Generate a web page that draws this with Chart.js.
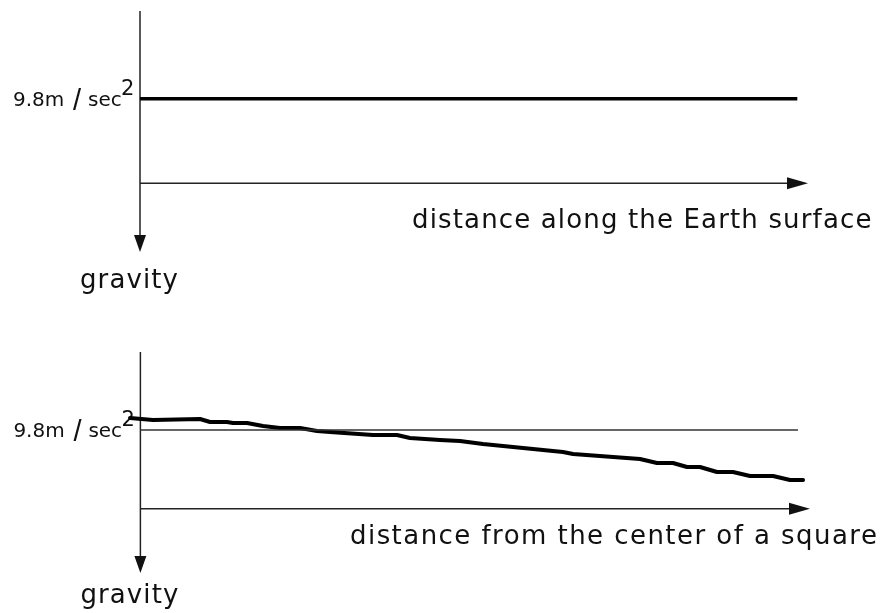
<!DOCTYPE html>
<html>
<head>
<meta charset="utf-8">
<script src="https://cdn.jsdelivr.net/npm/chart.js@4.4.1/dist/chart.umd.min.js"></script>
<style>
  html, body { margin: 0; padding: 0; background: #fff; }
  canvas { display: block; }
</style>
</head>
<body>
<canvas id="top" width="882" height="320"></canvas>
<canvas id="bottom" width="882" height="293"></canvas>
<script>
// values (distance 0..100 = arrow tip)
const g0 = 9.8;
const gLabel = ['9.8m', '/', 'sec', '2'];
const yLabel = 'gravity';
const topXLabel = 'distance along the Earth surface';
const bottomXLabel = 'distance from the center of a square';

const flatDist = [0, 98.4];
const flatGravity = [9.8, 9.8];

const refDist = [0, 98.2];
const refGravity = [9.8, 9.8];

const squareDist = [-1.55, 1.88, 8.90, 10.40, 12.93, 13.83, 15.92, 18.31, 20.85, 23.84, 26.38,
  28.32, 34.74, 38.32, 40.26, 44.74, 47.73, 51.17, 63.11, 64.61, 74.61, 77.15, 79.54, 81.63,
  83.57, 86.11, 88.50, 91.04, 94.48, 97.02, 98.96];
const squareGravity = [11.29, 11.04, 11.16, 10.79, 10.79, 10.66, 10.66, 10.29, 10.04, 10.04, 9.67,
  9.54, 9.17, 9.17, 8.80, 8.55, 8.42, 8.05, 7.06, 6.81, 6.18, 5.69, 5.69, 5.19,
  5.19, 4.57, 4.57, 4.07, 4.07, 3.57, 3.57];

const font = 'DejaVu Sans';

function pts(xs, ys) {
  return xs.map((x, i) => ({ x: x, y: ys[i] }));
}

// axes with arrowheads and the text labels
function diagram(o) {
  return {
    id: 'diagram',
    beforeDatasetsDraw(chart) {
      const { ctx, chartArea, scales: { x, y } } = chart;
      const x0 = x.getPixelForValue(0);
      const y0 = y.getPixelForValue(0);
      const yTip = chartArea.bottom;
      const xTip = chartArea.right;
      ctx.save();
      ctx.strokeStyle = '#222';
      ctx.fillStyle = '#111';
      ctx.lineWidth = 1.5;
      // vertical axis pointing down
      ctx.beginPath();
      ctx.moveTo(x0, chartArea.top);
      ctx.lineTo(x0, yTip - 14);
      ctx.stroke();
      ctx.beginPath();
      ctx.moveTo(x0 - 6, yTip - 17);
      ctx.lineTo(x0 + 6, yTip - 17);
      ctx.lineTo(x0, yTip);
      ctx.closePath();
      ctx.fill();
      // horizontal axis pointing right
      ctx.beginPath();
      ctx.moveTo(x0, y0);
      ctx.lineTo(xTip - 18, y0);
      ctx.stroke();
      ctx.beginPath();
      ctx.moveTo(xTip - 21, y0 - 6);
      ctx.lineTo(xTip - 21, y0 + 6);
      ctx.lineTo(xTip, y0);
      ctx.closePath();
      ctx.fill();

      // 9.8m /sec2 label
      const yg = y.getPixelForValue(g0);
      ctx.textAlign = 'left';
      ctx.textBaseline = 'alphabetic';
      ctx.font = '20px "' + font + '"';
      ctx.fillText(gLabel[0], x0 - 127, yg + 7);
      ctx.font = '29px "Liberation Sans"';
      ctx.fillText(gLabel[1], x0 - 67, yg + 11);
      ctx.font = '20px "' + font + '"';
      ctx.fillText(gLabel[2], x0 - 52, yg + 7);
      ctx.font = '21px "' + font + '"';
      ctx.fillText(gLabel[3], x0 - 19, yg - 4);

      // axis titles
      ctx.font = '26px "' + font + '"';
      ctx.letterSpacing = o.spacing;
      ctx.fillText(o.xText, o.xLeft, y0 + o.xDy);
      ctx.letterSpacing = '1.1px';
      ctx.fillText(yLabel, x0 - 60, yTip + o.gDy);
      ctx.restore();
    }
  };
}

function panel(id, datasets, xMin, pad, yMin, yMax, text) {
  return new Chart(document.getElementById(id), {
    type: 'line',
    data: { datasets: datasets },
    options: {
      responsive: false,
      animation: false,
      devicePixelRatio: 1,
      layout: { padding: pad },
      scales: {
        x: { type: 'linear', min: xMin, max: 100, display: false },
        y: { type: 'linear', min: yMin, max: yMax, display: false }
      },
      plugins: { legend: { display: false }, tooltip: { enabled: false } },
      elements: { point: { radius: 0 }, line: { tension: 0 } }
    },
    plugins: [diagram(text)]
  });
}

panel('top', [{
  data: pts(flatDist, flatGravity),
  borderColor: '#000',
  borderWidth: 3.5,
  borderCapStyle: 'butt'
}], 0, { left: 140, right: 74, top: 11, bottom: 68 }, -8, 20,
  { xText: topXLabel, xLeft: 412, xDy: 45, gDy: 36, spacing: '1.15px' });

panel('bottom', [{
  data: pts(refDist, refGravity),
  borderColor: '#333',
  borderWidth: 1.5
}, {
  data: pts(squareDist, squareGravity),
  borderColor: '#000',
  borderWidth: 4,
  borderJoinStyle: 'round',
  borderCapStyle: 'round'
}], -2, { left: 127, right: 72, top: 32, bottom: 40 }, -8, 19.5,
  { xText: bottomXLabel, xLeft: 350, xDy: 35, gDy: 30, spacing: '1.45px' });
</script>
</body>
</html>
